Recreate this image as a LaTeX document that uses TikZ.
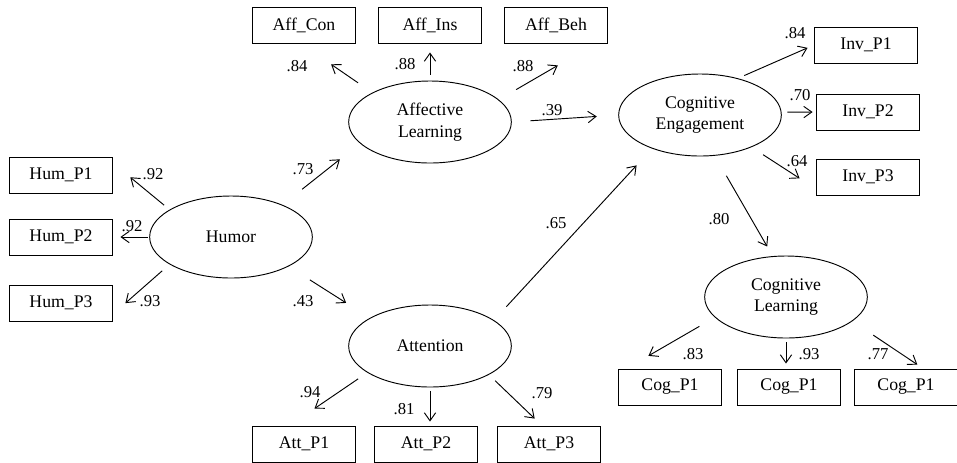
\documentclass[tikz,border=0pt]{standalone}
\usepackage{fontspec}
\setmainfont{Liberation Serif}
\usetikzlibrary{arrows.meta,shapes.geometric}

\begin{document}
\begin{tikzpicture}[x=0.75pt,y=-0.75pt,
    lat/.style={ellipse,draw,line width=0.7pt,minimum width=122pt,minimum height=61.5pt,
      inner sep=0pt,align=center,font=\fontsize{13.3}{16}\selectfont},
    obs/.style={rectangle,draw,line width=0.7pt,minimum width=77.25pt,minimum height=27pt,
      inner sep=0pt,font=\fontsize{13.3}{16}\selectfont},
    coef/.style={inner sep=0pt,font=\fontsize{12.5}{14}\selectfont},
    arr/.style={-{Straight Barb[length=6pt,width=8.5pt]},line width=0.7pt}]

  \useasboundingbox (0,0) rectangle (957,462);

  % latent variables
  \node[lat] (hum) at (231,237) {Humor};
  \node[lat] (aff) at (430,122) {Affective\\Learning};
  \node[lat] (att) at (430,346) {Attention};
  \node[lat] (eng) at (700,115) {Cognitive\\Engagement};
  \node[lat] (cogl) at (786,297) {Cognitive\\Learning};

  % indicators
  \node[obs] (hp1) at (61,175) {Hum\_P1};
  \node[obs] (hp2) at (61,237) {Hum\_P2};
  \node[obs] (hp3) at (61,303) {Hum\_P3};

  \node[obs] (ac) at (304,25) {Aff\_Con};
  \node[obs] (ai) at (430,25) {Aff\_Ins};
  \node[obs] (ab) at (556,25) {Aff\_Beh};

  \node[obs] (ip1) at (866,45) {Inv\_P1};
  \node[obs] (ip2) at (868,112) {Inv\_P2};
  \node[obs] (ip3) at (868,177) {Inv\_P3};

  \node[obs] (cp1) at (670,387) {Cog\_P1};
  \node[obs] (cp2) at (789,387) {Cog\_P1};
  \node[obs] (cp3) at (906,387) {Cog\_P1};

  \node[obs] (at1) at (304,444) {Att\_P1};
  \node[obs] (at2) at (426,444) {Att\_P2};
  \node[obs] (at3) at (549,444) {Att\_P3};

  % paths
  \draw[arr,shorten <=5.3pt,shorten >=16.8pt] (hum.156) -- (hp1.13);
  \draw[arr,shorten <=1pt,shorten >=5.6pt] (hum.west) -- (hp2.east);
  \draw[arr,shorten <=7.3pt,shorten >=12.4pt] (hum.204) -- (hp3.348);
  \draw[arr,shorten <=18.8pt,shorten >=19.2pt] (hum.32) -- (aff.197);
  \draw[arr,shorten <=18.8pt,shorten >=21pt] (hum.333) -- (att.155);

  \draw[arr,shorten <=13pt,shorten >=27.6pt] (aff.153) -- (ac.260);
  \draw[arr,shorten <=4.5pt,shorten >=6.75pt] (aff.north) -- (aff.north |- ai.south);
  \draw[arr,shorten <=15pt,shorten >=32.8pt] (aff.18) -- (ab.335);
  \draw[arr,shorten <=13.9pt,shorten >=16.1pt] (aff.east) -- (eng.west);

  \draw[arr,shorten <=5.1pt,shorten >=5.3pt] (eng.44) -- (ip1.west);
  \draw[arr,shorten <=4.3pt,shorten >=2.6pt] (eng.2) -- (ip2.west);
  \draw[arr,shorten <=10.3pt,shorten >=14.7pt] (eng.328) -- (ip3.193);
  \draw[arr,shorten <=13.7pt,shorten >=17.1pt] (att.22) -- (eng.215);
  \draw[arr,shorten <=17.3pt,shorten >=8.3pt] (eng.290) -- (cogl.108);

  \draw[arr,shorten <=13.4pt,shorten >=19pt] (cogl.196) -- (cp1.157);
  \draw[arr,shorten <=3pt,shorten >=3.75pt] (cogl.south) -- (cogl.south |- cp2.north);
  \draw[arr,shorten <=18.8pt,shorten >=5.3pt] (cogl.340) -- (cp3.47);

  \draw[arr,shorten <=8.3pt,shorten >=22.6pt] (att.203) -- (at1.128);
  \draw[arr,shorten <=2.6pt,shorten >=3pt] (att.south) -- (att.south |- at2.north);
  \draw[arr,shorten <=6.5pt,shorten >=7.5pt] (att.334) -- (at3.111);

  % loadings
  \node[coef] (c1) at (153,174) {.92};
  \node[coef] (c2) at (132,226) {.92};
  \node[coef] (c3) at (150,301) {.93};
  \node[coef] (c4) at (303,169) {.73};
  \node[coef] (c5) at (303,301) {.43};
  \node[coef] (c6) at (297,66) {.84};
  \node[coef] (c7) at (405,64) {.88};
  \node[coef] (c8) at (523,66) {.88};
  \node[coef] (c9) at (552,110) {.39};
  \node[coef] (c10) at (795,33) {.84};
  \node[coef] (c11) at (800,95) {.70};
  \node[coef] (c12) at (797,161) {.64};
  \node[coef] (c13) at (556,223) {.65};
  \node[coef] (c14) at (719,219) {.80};
  \node[coef] (c15) at (693,354) {.83};
  \node[coef] (c16) at (809,354) {.93};
  \node[coef] (c17) at (878,354) {.77};
  \node[coef] (c18) at (310,392) {.94};
  \node[coef] (c19) at (404,409) {.81};
  \node[coef] (c20) at (542,393) {.79};

\end{tikzpicture}
\end{document}
